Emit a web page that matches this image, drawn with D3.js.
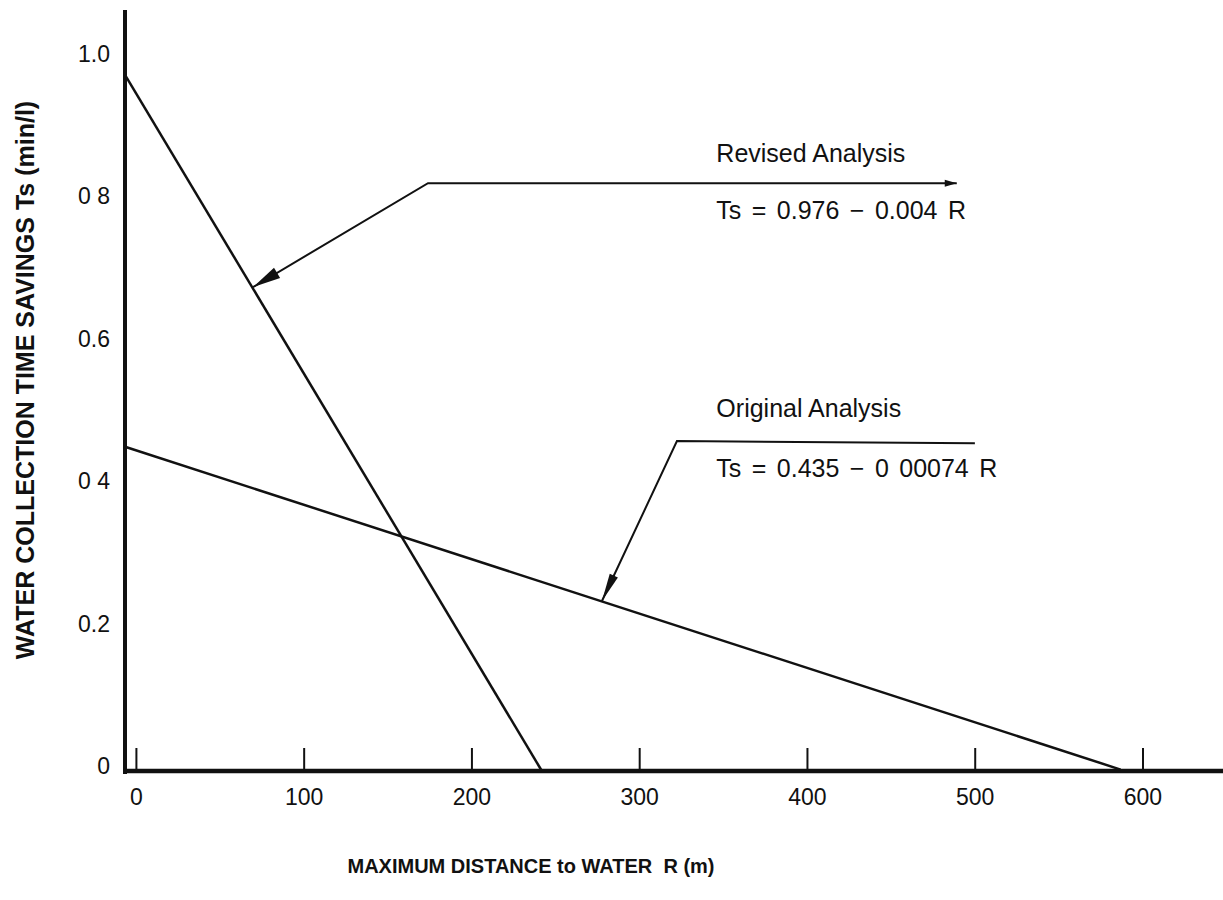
<!DOCTYPE html>
<html>
<head>
<meta charset="utf-8">
<script src="https://cdn.jsdelivr.net/npm/d3@7"></script>
<style>
  body { margin: 0; background: #fff; }
  text { font-family: "Liberation Sans", Arial, sans-serif; fill: #111; }
</style>
</head>
<body>
<script>
// values
const xTicks = [0, 100, 200, 300, 400, 500, 600];
const xTickLabels = ['0', '100', '200', '300', '400', '500', '600'];
const yTicks = [0, 0.2, 0.4, 0.6, 0.8, 1.0];
const yTickLabels = ['0', '0.2', '0 4', '0.6', '0 8', '1.0'];

// lines run from the y axis down to the x axis
const revisedR = [-6.5, 242];
const revisedTs = [0.977, 0];
const originalR = [-6.5, 587];
const originalTs = [0.455, 0.002];

// leader lines: tip on curve, elbow, end
const revisedLeaderR = [69.8, 174.1, 489.3];
const revisedLeaderTs = [0.679, 0.825, 0.825];
const originalLeaderR = [277.8, 322.5, 500.1];
const originalLeaderTs = [0.2386, 0.463, 0.46];

const labelR = 346;
const revisedLabels = ['Revised Analysis', 'Ts = 0.976 \u2212 0.004 R'];
const revisedLabelTs = [0.855, 0.775];
const originalLabels = ['Original Analysis', 'Ts = 0.435 \u2212 0 00074 R'];
const originalLabelTs = [0.497, 0.4126];

const width = 1223, height = 900;

const x = d3.scaleLinear().domain([-6.5, 648]).range([125, 1223]);
const y = d3.scaleLinear().domain([0, 1.068]).range([771, 10]);

const svg = d3.select('body').append('svg')
  .attr('width', width)
  .attr('height', height);

// y axis (no ticks, just labels)
svg.append('line')
  .attr('x1', x(-6.5)).attr('x2', x(-6.5))
  .attr('y1', y(1.068)).attr('y2', y(0) + 3)
  .attr('stroke', '#111').attr('stroke-width', 4);

svg.selectAll('.ylab')
  .data(yTicks)
  .enter()
  .append('text')
  .attr('class', 'ylab')
  .attr('x', 110)
  .attr('y', d => y(d) - 5)
  .attr('dy', '0.35em')
  .attr('text-anchor', 'end')
  .style('font-size', '23px')
  .text((d, i) => yTickLabels[i]);

// x axis, ticks point up
const xAxis = d3.axisBottom(x)
  .tickValues(xTicks)
  .tickFormat((d, i) => xTickLabels[i])
  .tickSize(-23)
  .tickPadding(18);

const gx = svg.append('g')
  .attr('transform', `translate(0,${y(0)})`)
  .call(xAxis);

gx.select('.domain')
  .attr('d', `M${x(-6.5)},0H${width}`)
  .attr('stroke', '#111')
  .attr('stroke-width', 4.5);
gx.selectAll('.tick line').attr('stroke', '#111').attr('stroke-width', 2);
gx.selectAll('.tick text')
  .style('font-size', '23px')
  .style('font-family', '"Liberation Sans", Arial, sans-serif')
  .attr('fill', '#111');

// data lines
const line = d3.line().x(d => x(d[0])).y(d => y(d[1]));

svg.append('path')
  .datum(d3.zip(revisedR, revisedTs))
  .attr('d', line)
  .attr('fill', 'none')
  .attr('stroke', '#111')
  .attr('stroke-width', 2.5);

svg.append('path')
  .datum(d3.zip(originalR, originalTs))
  .attr('d', line)
  .attr('fill', 'none')
  .attr('stroke', '#111')
  .attr('stroke-width', 2.5);

// leaders with arrow heads at the tip
function arrowHead(tip, from, len, half) {
  const dx = from[0] - tip[0], dy = from[1] - tip[1];
  const l = Math.hypot(dx, dy);
  const ux = dx / l, uy = dy / l;
  const bx = tip[0] + ux * len, by = tip[1] + uy * len;
  return `M${tip[0]},${tip[1]}L${bx - uy * half},${by + ux * half}L${bx + uy * half},${by - ux * half}Z`;
}

function leader(rs, ts, headLen, headHalf, endArrow) {
  const pts = d3.zip(rs, ts).map(d => [x(d[0]), y(d[1])]);
  svg.append('path')
    .attr('d', d3.line()(pts))
    .attr('fill', 'none')
    .attr('stroke', '#111')
    .attr('stroke-width', 2);
  svg.append('path')
    .attr('d', arrowHead(pts[0], pts[1], headLen, headHalf))
    .attr('fill', '#111');
  if (endArrow) {
    svg.append('path')
      .attr('d', arrowHead(pts[2], pts[1], 12, 3.5))
      .attr('fill', '#111');
  }
}

leader(revisedLeaderR, revisedLeaderTs, 28, 6, true);
leader(originalLeaderR, originalLeaderTs, 28, 4.5, false);

// annotation text
function labels(texts, ts) {
  svg.selectAll(null)
    .data(texts)
    .enter()
    .append('text')
    .attr('x', x(labelR))
    .attr('y', (d, i) => y(ts[i]))
    .style('font-size', '25px')
    .style('word-spacing', (d, i) => i === 1 ? '3.5px' : '0px')
    .text(d => d);
}
labels(revisedLabels, revisedLabelTs);
labels(originalLabels, originalLabelTs);

// axis titles
svg.append('text')
  .attr('x', 531)
  .attr('y', 873)
  .attr('text-anchor', 'middle')
  .style('font-size', '20px')
  .style('font-weight', 'bold')
  .attr('xml:space', 'preserve')
  .text('MAXIMUM DISTANCE to WATER  R (m)');

svg.append('text')
  .attr('transform', 'translate(34,380) rotate(-90)')
  .attr('text-anchor', 'middle')
  .style('font-size', '25px')
  .style('font-weight', 'bold')
  .text('WATER COLLECTION TIME SAVINGS Ts (min/l)');
</script>
</body>
</html>
